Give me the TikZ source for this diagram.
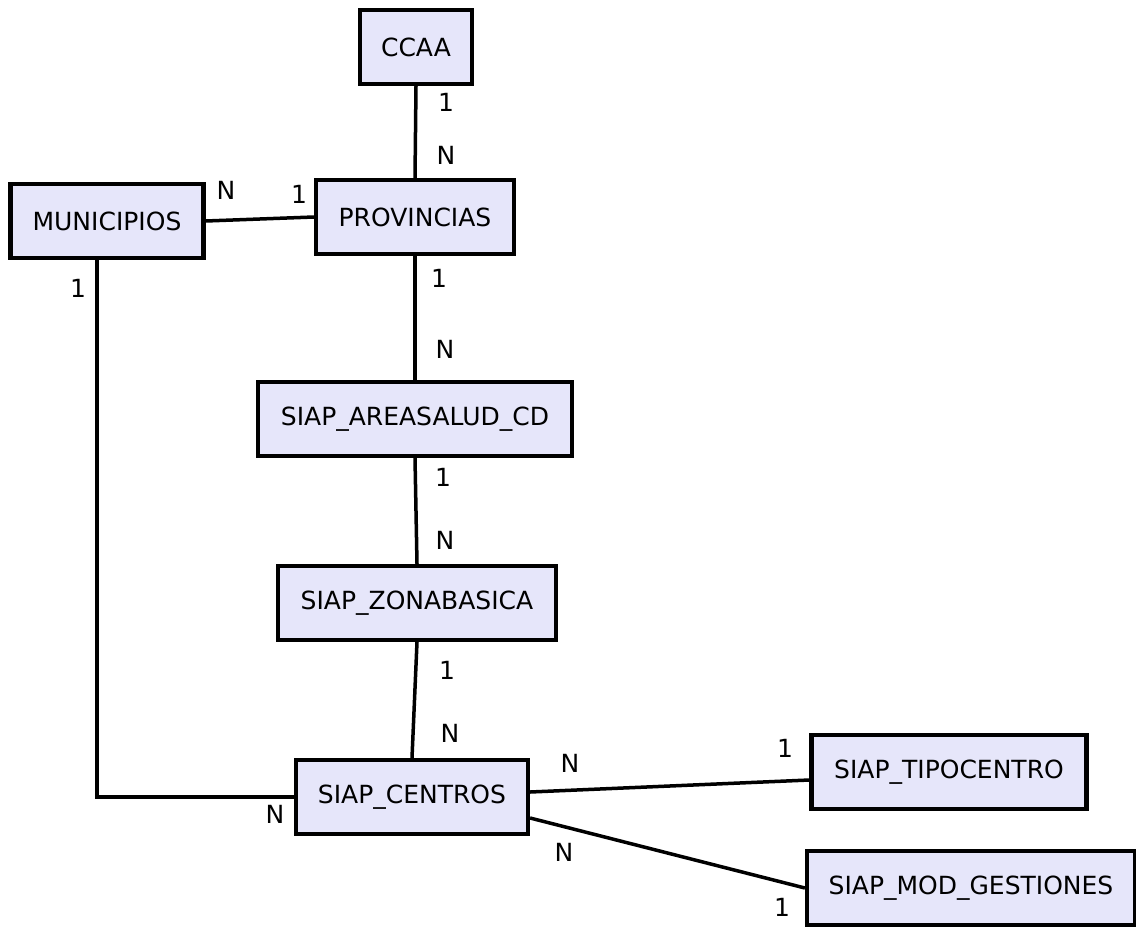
\documentclass[tikz,border=0pt]{standalone}
\usepackage{fontspec}
\setmainfont{DejaVu Sans}
\usetikzlibrary{calc}
\definecolor{entityfill}{RGB}{230,230,250}
\tikzset{
  entity/.style={draw=black, line width=4.2pt, fill=entityfill, minimum height=74pt,
    inner xsep=0pt, font=\fontsize{25}{30}\selectfont},
  rel/.style={draw=black, line width=3.5pt},
  card/.style={font=\fontsize{25}{30}\selectfont, inner sep=0pt}
}
\begin{document}
\begin{tikzpicture}[x=1pt, y=-1pt]
  \useasboundingbox (0,0) rectangle (1136,927);

  % entities
  \node[entity, minimum width=112pt] (ccaa) at (416,47) {CCAA};
  \node[entity, minimum width=198pt] (prov) at (415,217) {PROVINCIAS};
  \node[entity, minimum width=193pt] (muni) at (107,221) {MUNICIPIOS};
  \node[entity, minimum width=314pt] (area) at (415,419) {SIAP\_AREASALUD\_CD};
  \node[entity, minimum width=278pt] (zona) at (417,603) {SIAP\_ZONABASICA};
  \node[entity, minimum width=232pt] (cent) at (412,797) {SIAP\_CENTROS};
  \node[entity, minimum width=275pt] (tipo) at (949,772) {SIAP\_TIPOCENTRO};
  \node[entity, minimum width=328pt] (gest) at (971,888) {SIAP\_MOD\_GESTIONES};

  % relationships
  \draw[rel] (ccaa.south) -- (prov.north);
  \draw[rel] (muni.east) -- (prov.west);
  \draw[rel] (prov.south) -- (area.north);
  \draw[rel] (area.south) -- (zona.north);
  \draw[rel] (zona.south) -- (cent.north);
  \draw[rel] ([xshift=-10pt]muni.south) |- (cent.west);
  \draw[rel] ([yshift=5pt]cent.east) -- ([yshift=-8pt]tipo.west);
  \draw[rel] ([yshift=-21pt]cent.east) -- (gest.west);

  % cardinalities
  \node[card] (c1) at (446,102) {1};
  \node[card] (c2) at (446,155) {N};
  \node[card] (c3) at (226,190) {N};
  \node[card] (c4) at (299,194) {1};
  \node[card] (c5) at (439,278) {1};
  \node[card] (c6) at (445,349) {N};
  \node[card] (c7) at (443,477) {1};
  \node[card] (c8) at (445,540) {N};
  \node[card] (c9) at (447,670) {1};
  \node[card] (c10) at (450,733) {N};
  \node[card] (c11) at (78,288) {1};
  \node[card] (c12) at (275,814) {N};
  \node[card] (c13) at (570,763) {N};
  \node[card] (c14) at (785,748) {1};
  \node[card] (c15) at (564,852) {N};
  \node[card] (c16) at (782,907) {1};
\end{tikzpicture}
\end{document}
